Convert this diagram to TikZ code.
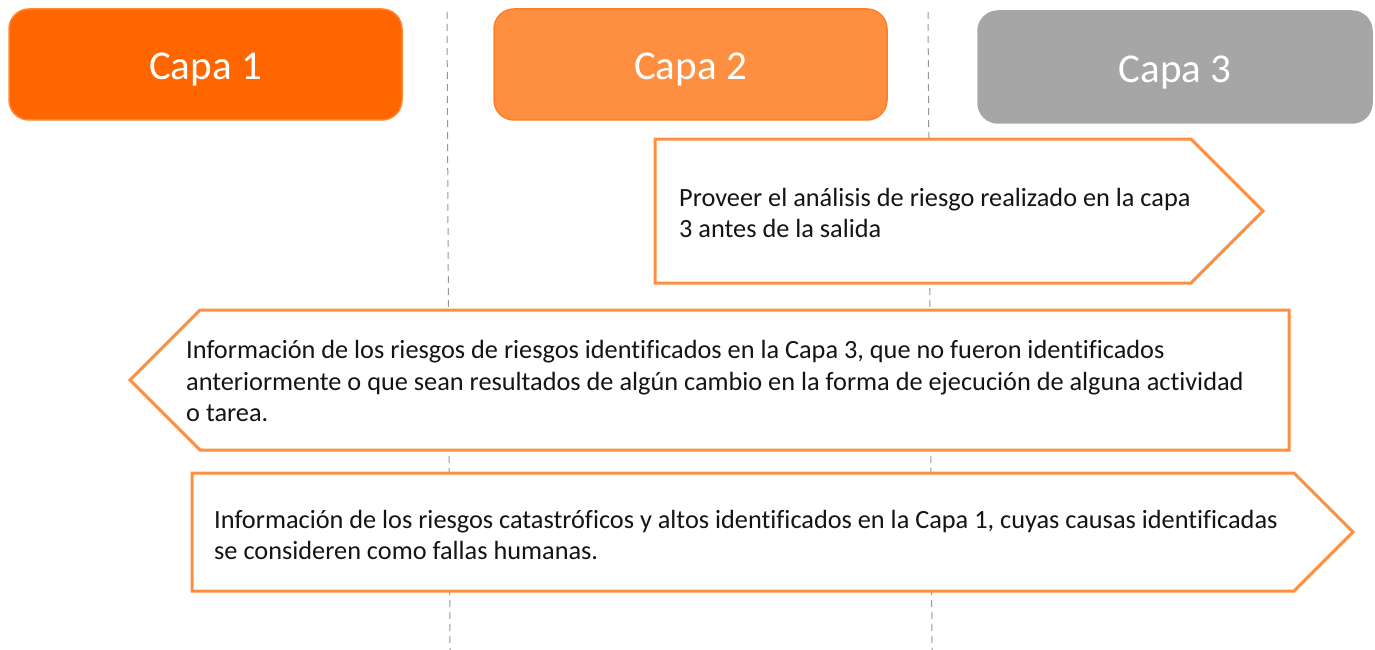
\documentclass[tikz,border=0pt]{standalone}
\usepackage{fontspec}
\setmainfont{Carlito}[Ligatures=NoCommon]
\definecolor{capaA}{RGB}{255,102,0}
\definecolor{capaAb}{RGB}{255,133,51}
\definecolor{capaB}{RGB}{255,143,64}
\definecolor{capaBb}{RGB}{255,127,39}
\definecolor{capaC}{RGB}{166,166,166}
\definecolor{arrowline}{RGB}{255,143,64}
\definecolor{dashgray}{RGB}{150,150,150}
\definecolor{txt}{RGB}{20,20,20}
\begin{document}
\begin{tikzpicture}[x=1pt,y=-1pt,
  capabox/.style={rounded corners=20pt,line width=1.5pt},
  capatext/.style={anchor=base,inner sep=0pt,text=white,font=\fontsize{41}{45}\selectfont},
  flow/.style={draw=arrowline,line width=3pt,fill=white,line join=miter},
  flowtext/.style={anchor=west,align=left,inner sep=0pt,text=txt,font=\fontsize{26.3}{31.3}\selectfont},
  sep/.style={draw=dashgray,line width=1pt,dash pattern=on 7pt off 5pt}]
\useasboundingbox (0,0) rectangle (1375,650);
% separators
\coordinate (s1t) at (447,12);
\coordinate (s1b) at (450,650);
\coordinate (s2t) at (928,12);
\coordinate (s2b) at (932,650);
\draw[sep] (s1t) -- (s1b);
\draw[sep] (s2t) -- (s2b);
% layer boxes
\draw[capabox,fill=capaA,draw=capaAb] (9,9) rectangle (402,120);
\node[capatext] (c1) at (205.5,80) {Capa 1};
\draw[capabox,fill=capaB,draw=capaBb] (494,9) rectangle (887,120);
\node[capatext] (c2) at (690.5,80) {Capa 2};
\draw[capabox,fill=capaC,draw=capaC] (978,11) rectangle (1372,123);
\node[capatext] (c3) at (1175,83) {Capa 3};
% arrow 1
\draw[flow] (655,139) -- (1191,139) -- (1263,211) -- (1191,283) -- (655,283) -- cycle;
\node[flowtext] (t1) at (679,213) {Proveer el análisis de riesgo realizado en la capa\\3 antes de la salida};
% arrow 2
\draw[flow] (1289,310) -- (1289,450) -- (200,450) -- (130,380) -- (200,310) -- cycle;
\node[flowtext] (t2) at (186,381) {Información de los riesgos de riesgos identificados en la Capa 3, que no fueron identificados\\anteriormente o que sean resultados de algún cambio en la forma de ejecución de alguna actividad\\o tarea.};
% arrow 3
\draw[flow] (192,473) -- (1294,473) -- (1353,532) -- (1294,591) -- (192,591) -- cycle;
\node[flowtext] (t3) at (214,535) {Información de los riesgos catastróficos y altos identificados en la Capa 1, cuyas causas identificadas\\se consideren como fallas humanas.};
\end{tikzpicture}
\end{document}
